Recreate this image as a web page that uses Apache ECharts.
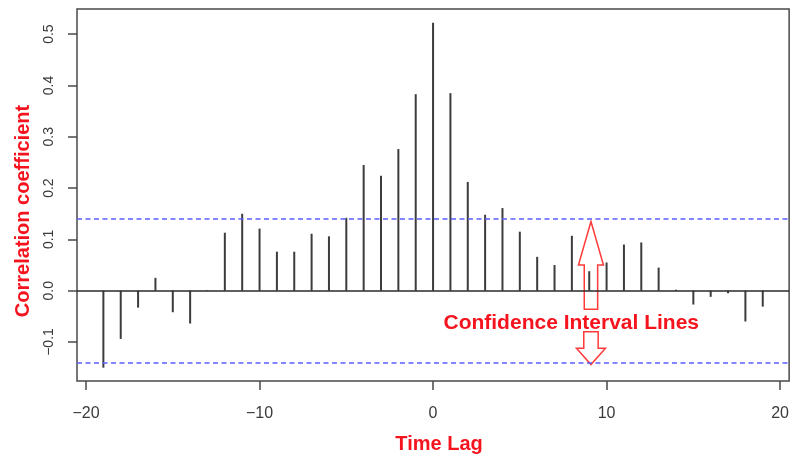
<!DOCTYPE html>
<html>
<head>
<meta charset="utf-8">
<title>Cross-correlation</title>
<script src="https://cdn.jsdelivr.net/npm/echarts@6/dist/echarts.min.js"></script>
<style>
  html, body { margin: 0; padding: 0; background: #fff; }
  #chart { width: 792px; height: 459px; }
</style>
</head>
<body>
<div id="chart"></div>
<script>
// 时间滞后 (lag) 与相关系数
const lags = [-19, -18, -17, -16, -15, -14, -13, -12, -11, -10, -9, -8, -7, -6, -5, -4, -3, -2, -1,
    0, 1, 2, 3, 4, 5, 6, 7, 8, 9, 10, 11, 12, 13, 14, 15, 16, 17, 18, 19];
const ccfValues = [-0.150, -0.094, -0.033, 0.025, -0.042, -0.064, 0.001, 0.113, 0.150, 0.121,
    0.076, 0.076, 0.111, 0.106, 0.142, 0.245, 0.224, 0.276, 0.383,
    0.522, 0.385, 0.212, 0.148, 0.161, 0.115, 0.066, 0.050, 0.107, 0.038,
    0.055, 0.090, 0.094, 0.045, 0.002, -0.027, -0.012, -0.005, -0.060, -0.031];
const ciBound = 0.141;
const xTicks = [-20, -10, 0, 10, 20];
const yTicks = [-0.1, 0.0, 0.1, 0.2, 0.3, 0.4, 0.5];

// 注释箭头 (数据坐标)
const arrowLag = 9.1;
const upArrow = [0.135, 0.050, -0.036];     // tip, head base, shaft end
const downArrow = [-0.080, -0.112, -0.144]; // shaft start, head base, tip
const noteAnchor = [0.6, -0.063];

const FONT = "'Liberation Sans', Arial, sans-serif";
const RED = '#f5141e';

function minusSign(s) {
    return String(s).replace('-', '\u2212');
}

const chart = echarts.init(document.getElementById('chart'));
const option = {
    animation: false,
    grid: {
        left: 77, right: 1, top: 9, bottom: 76,
        show: true,
        borderColor: '#4a4a4a',
        borderWidth: 1.5
    },
    xAxis: {
        type: 'value',
        min: -20.52,
        max: 20.52,
        name: 'Time Lag',
        nameLocation: 'middle',
        nameGap: 53,
        nameTextStyle: { color: RED, fontFamily: FONT, fontWeight: 'bold', fontSize: 20, padding: [0, 0, 0, 12] },
        axisLine: { show: false, onZero: false },
        splitLine: { show: false },
        axisTick: {
            show: true, length: 9, customValues: xTicks,
            lineStyle: { color: '#4a4a4a', width: 1.5 }
        },
        axisLabel: {
            customValues: xTicks,
            margin: 25,
            color: '#3a3a3a',
            fontFamily: FONT,
            fontSize: 16,
            formatter: v => minusSign(v)
        }
    },
    yAxis: {
        type: 'value',
        min: -0.176,
        max: 0.549,
        name: 'Correlation coefficient',
        nameLocation: 'middle',
        nameRotate: 90,
        nameGap: 44,
        nameTextStyle: { color: RED, fontFamily: FONT, fontWeight: 'bold', fontSize: 20, padding: [0, 32, 0, 0] },
        axisLine: { show: false, onZero: false },
        splitLine: { show: false },
        axisTick: {
            show: true, length: 9, customValues: yTicks,
            lineStyle: { color: '#4a4a4a', width: 1.5 }
        },
        axisLabel: {
            customValues: yTicks,
            rotate: 90,
            margin: 21,
            color: '#3a3a3a',
            fontFamily: FONT,
            fontSize: 14,
            formatter: v => minusSign(Number(v).toFixed(1))
        }
    },
    series: [{
        type: 'bar',
        barWidth: 2,
        itemStyle: { color: '#3c3c3c' },
        data: lags.map((l, i) => [l, ccfValues[i]]),
        markLine: {
            silent: true,
            symbol: ['none', 'none'],
            label: { show: false },
            data: [
                { yAxis: 0, lineStyle: { color: '#2a2a2a', type: 'solid', width: 1.5 } },
                { yAxis: ciBound, lineStyle: { color: '#5c5cff', type: [5, 3.5], width: 1.6 } },
                { yAxis: -ciBound, lineStyle: { color: '#5c5cff', type: [5, 3.5], width: 1.6 } }
            ]
        }
    }]
};
chart.setOption(option);

// 箭头与说明文字
function px(x, y) {
    return chart.convertToPixel({ gridIndex: 0 }, [x, y]);
}
const ax = px(arrowLag, 0)[0];
const uTip = px(arrowLag, upArrow[0])[1];
const uHead = px(arrowLag, upArrow[1])[1];
const uEnd = px(arrowLag, upArrow[2])[1];
const dStart = px(arrowLag, downArrow[0])[1];
const dHead = px(arrowLag, downArrow[1])[1];
const dTip = px(arrowLag, downArrow[2])[1];
const note = px(noteAnchor[0], noteAnchor[1]);

const arrowStyle = { fill: 'none', stroke: '#ff3a3a', lineWidth: 1.5 };
chart.setOption({
    graphic: [
        {
            type: 'polygon',
            shape: {
                points: [[ax, uTip], [ax + 12.5, uHead], [ax + 6.7, uHead], [ax + 6.7, uEnd],
                    [ax - 6.7, uEnd], [ax - 6.7, uHead], [ax - 12.5, uHead]]
            },
            style: arrowStyle
        },
        {
            type: 'polygon',
            shape: {
                points: [[ax - 7.2, dStart], [ax + 7.2, dStart], [ax + 7.2, dHead], [ax + 14.5, dHead],
                    [ax, dTip], [ax - 14.5, dHead], [ax - 7.2, dHead]]
            },
            style: arrowStyle
        },
        {
            type: 'text',
            x: note[0],
            y: note[1],
            style: {
                text: 'Confidence Interval Lines',
                fill: RED,
                font: "bold 21px 'Liberation Sans', Arial, sans-serif",
                textAlign: 'left',
                textVerticalAlign: 'middle'
            }
        }
    ]
});
</script>
</body>
</html>
